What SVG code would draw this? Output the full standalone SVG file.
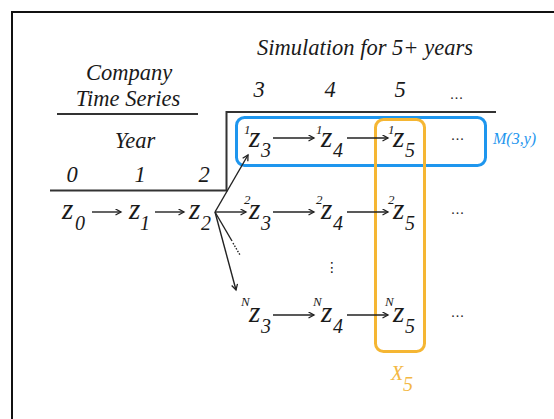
<svg xmlns="http://www.w3.org/2000/svg" width="554" height="419" viewBox="0 0 554 419">
<defs>
<style>
text{font-family:'Liberation Serif','Times New Roman',serif;font-style:italic;fill:#1a1a1a}
.h{font-size:22.5px}
.z{font-size:29px}
.sb{font-size:20px}
.sp{font-size:13px}
.dots{font-size:14px;font-style:normal;letter-spacing:1px}
.rule{stroke:#333;stroke-width:2;fill:none}
.c{stroke:#222;stroke-width:1.4;fill:none}
.ca{stroke:#222;stroke-width:1.4;fill:none;marker-end:url(#ah)}
</style>
<marker id="ah" markerWidth="8" markerHeight="8" refX="6" refY="3.5" orient="auto" markerUnits="userSpaceOnUse">
<path d="M0.5,0.5 L6,3.5 L0.5,6.5" fill="none" stroke="#222" stroke-width="1.3"/>
</marker>
</defs>
<rect width="554" height="419" fill="#fff"/>
<path d="M12,430 V12 H560" fill="none" stroke="#111" stroke-width="2"/>

<g id="headers">
<text class="h" x="129" y="80" text-anchor="middle">Company</text>
<text class="h" x="128" y="106" text-anchor="middle">Time Series</text>
<text class="h" x="135" y="148" text-anchor="middle">Year</text>
<text class="h" x="72" y="182" text-anchor="middle">0</text>
<text class="h" x="140" y="182" text-anchor="middle">1</text>
<text class="h" x="204" y="182" text-anchor="middle">2</text>
<text class="h" x="365" y="55" text-anchor="middle">Simulation for 5+ years</text>
<text class="h" x="259" y="97" text-anchor="middle">3</text>
<text class="h" x="330" y="97" text-anchor="middle">4</text>
<text class="h" x="400" y="97" text-anchor="middle">5</text>
<text class="dots" x="457" y="99" text-anchor="middle">...</text>
<path class="rule" d="M57,114 H198"/>
<path class="rule" d="M50,190.5 H226.5 V112 H496"/>
</g>

<g id="group-M">
<rect x="236.5" y="117.5" width="249" height="48" rx="8" fill="none" stroke="#1E96EE" stroke-width="3"/>
<text x="493" y="144" style="font-size:16px;fill:#1E96EE">M(3,y)</text>
</g>
<g id="group-X">
<rect x="375.5" y="119.5" width="49" height="232" rx="8" fill="none" stroke="#F5B633" stroke-width="3"/>
<text x="391" y="380" style="font-size:20px;fill:#F3B843">X</text>
<text x="403" y="391" style="font-size:20px;fill:#F3B843">5</text>
</g>

<g id="z0"><text class="z" x="62" y="219">z</text><text class="sb" x="75" y="230">0</text></g>
<g id="z1"><text class="z" x="129" y="219">z</text><text class="sb" x="140" y="230">1</text></g>
<g id="z2"><text class="z" x="189" y="219">z</text><text class="sb" x="201" y="230">2</text></g>

<g id="z3-1"><text class="sp" x="244" y="134">1</text><text class="z" x="249" y="147">z</text><text class="sb" x="261" y="157">3</text></g>
<g id="z4-1"><text class="sp" x="316" y="134">1</text><text class="z" x="321" y="147">z</text><text class="sb" x="333" y="157">4</text></g>
<g id="z5-1"><text class="sp" x="388" y="134">1</text><text class="z" x="393" y="147">z</text><text class="sb" x="405" y="157">5</text></g>
<g id="more-1"><text class="dots" x="458" y="140" text-anchor="middle">...</text></g>

<g id="z3-2"><text class="sp" x="244" y="204">2</text><text class="z" x="249" y="219">z</text><text class="sb" x="261" y="230">3</text></g>
<g id="z4-2"><text class="sp" x="316" y="204">2</text><text class="z" x="321" y="219">z</text><text class="sb" x="333" y="230">4</text></g>
<g id="z5-2"><text class="sp" x="388" y="204">2</text><text class="z" x="393" y="219">z</text><text class="sb" x="405" y="230">5</text></g>
<g id="more-2"><text class="dots" x="458" y="214" text-anchor="middle">...</text></g>

<g id="vdots"><text x="332" y="272" text-anchor="middle" style="font-family:'DejaVu Sans',sans-serif;font-style:normal;font-size:14px">⋮</text></g>

<g id="z3-N"><text class="sp" x="241" y="306">N</text><text class="z" x="249" y="322">z</text><text class="sb" x="261" y="333">3</text></g>
<g id="z4-N"><text class="sp" x="313" y="306">N</text><text class="z" x="321" y="322">z</text><text class="sb" x="333" y="333">4</text></g>
<g id="z5-N"><text class="sp" x="385" y="306">N</text><text class="z" x="393" y="322">z</text><text class="sb" x="405" y="333">5</text></g>
<g id="more-N"><text class="dots" x="458" y="317" text-anchor="middle">...</text></g>

<g id="connectors">
<path class="ca" d="M92,212 H121"/>
<path class="ca" d="M155,212 H184"/>
<path class="ca" d="M215,212 L248,155"/>
<path class="ca" d="M215,212 H246"/>
<path class="ca" d="M215,212 L236,290"/>
<path class="c" d="M215,212 L232,241"/>
<path class="c" d="M233,243 L240,255" stroke-dasharray="1.5,1.5"/>
<path class="ca" d="M273,138 H314"/>
<path class="ca" d="M347,138 H388"/>
<path class="ca" d="M273,212 H314"/>
<path class="ca" d="M347,212 H388"/>
<path class="ca" d="M273,315 H314"/>
<path class="ca" d="M347,315 H388"/>
</g>
</svg>
